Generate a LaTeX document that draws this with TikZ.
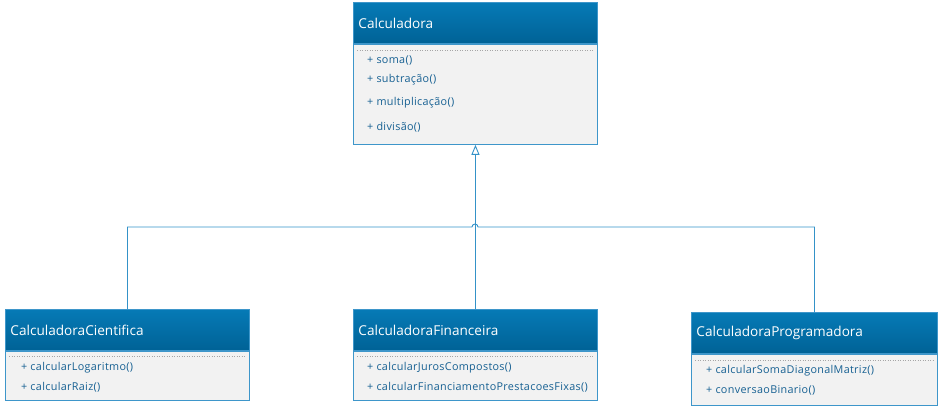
\documentclass[tikz,border=0pt]{standalone}
\usepackage{fontspec}
\setmainfont{Open Sans}
\newfontfamily\methfont[LetterSpace=3]{Open Sans}
\usetikzlibrary{arrows.meta}
\definecolor{hdrtop}{RGB}{6,122,182}
\definecolor{hdrbot}{RGB}{0,98,150}
\definecolor{clsline}{RGB}{62,150,202}
\definecolor{bodyfill}{RGB}{242,242,242}
\definecolor{methtext}{RGB}{22,96,146}
\definecolor{genline}{RGB}{52,146,200}
\begin{document}
\begin{tikzpicture}[x=1pt, y=-1pt,
  hdr/.style={anchor=north west, draw=clsline, line width=0.9pt, top color=hdrtop, bottom color=hdrbot,
    text=white, font=\fontsize{13.6}{16}\selectfont, minimum height=41pt,
    inner xsep=5pt, align=left},
  body/.style={anchor=north, draw=clsline, line width=0.9pt, fill=bodyfill},
  meth/.style={anchor=west, text=methtext, font=\methfont\fontsize{10.8}{12}\selectfont, inner sep=1pt},
  sep/.style={draw=gray!70, dotted, line width=0.5pt},
  gen/.style={draw=genline, line width=0.9pt}]
		\useasboundingbox (0,0) rectangle (939,406);
		% base class
		\node[hdr, text width=234pt] (calc) at (353,2) {Calculadora};
		\node[body, minimum width=244pt, minimum height=100pt] (calcb) at (calc.south) {};
		\draw[sep] ([shift={(4,6)}]calcb.north west) -- ([shift={(-4,6)}]calcb.north east);
		\node[meth] (soma) at (366,60.5) {+ soma()};
		\node[meth] (sub) at (366,79.5) {+ subtração()};
		\node[meth] (mult) at (366,102.5) {+ multiplicação()};
		\node[meth] (div) at (366,127) {+ divisão()};
		
		% subclasses
		\node[hdr, text width=234pt] (cient) at (5,309) {CalculadoraCientifica};
		\node[body, minimum width=244pt, minimum height=49pt] (cientb) at (cient.south) {};
		\draw[sep] ([shift={(4,5)}]cientb.north west) -- ([shift={(-4,5)}]cientb.north east);
		\node[meth] (log) at (20,368) {+ calcularLogaritmo()};
		\node[meth] (raiz) at (20,387) {+ calcularRaiz()};
		
		\node[hdr, text width=234pt] (fin) at (353,309) {CalculadoraFinanceira};
		\node[body, minimum width=244pt, minimum height=49pt] (finb) at (fin.south) {};
		\draw[sep] ([shift={(4,5)}]finb.north west) -- ([shift={(-4,5)}]finb.north east);
		\node[meth] (juros) at (366,368) {+ calcularJurosCompostos()};
		\node[meth] (prest) at (366,387) {+ calcularFinanciamentoPrestacoesFixas()};
		
		\node[hdr, text width=236pt] (prog) at (691,312) {CalculadoraProgramadora};
		\node[body, minimum width=246pt, minimum height=51pt] (progb) at (prog.south) {};
		\draw[sep] ([shift={(4,6)}]progb.north west) -- ([shift={(-4,6)}]progb.north east);
		\node[meth] (diag) at (705,371) {+ calcularSomaDiagonalMatriz()};
		\node[meth] (bin) at (705,390) {+ conversaoBinario()};
		
		% generalization
		\coordinate (bar) at (475,227);
		\draw[gen, -{Triangle[open, width=8pt, length=10pt]}] (fin.north) -- (calcb.south);
		\draw[gen] (cient.north) |- ([xshift=-3pt]bar) arc (180:360:3) -- (prog.north |- bar) -- (prog.north);
		
		\end{tikzpicture}
\end{document}
